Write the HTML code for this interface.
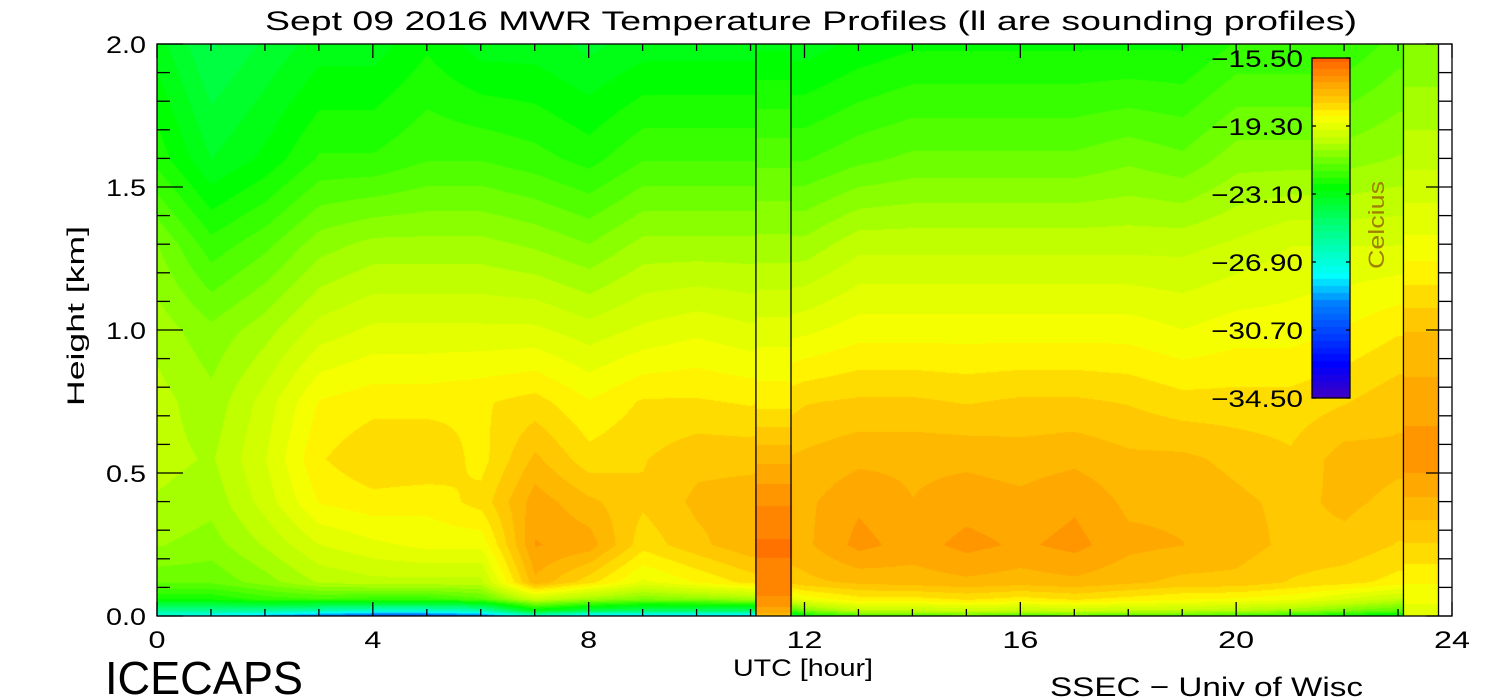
<!DOCTYPE html>
<html><head><meta charset="utf-8"><style>
body{margin:0;background:#fff;width:1500px;height:700px;overflow:hidden;position:relative;font-family:"Liberation Sans",sans-serif}
canvas,svg{position:absolute;left:0;top:0}
</style></head><body>
<canvas id="heat" width="1500" height="700"></canvas>
<svg id="ov" width="1500" height="700"></svg>
<script>
const heights=[0,0.02,0.06,0.12,0.25,0.4,0.55,0.75,1.0,1.3,1.6,2.0];
const times=[0,1,2,3,4,5,6,7,8,9,10,11,12,13,14,15,16,17,18,19,20,21,22,23];
const tH0=[-27,-28,-29,-30,-31,-31,-30,-27,-29,-29,-29,-29,-23,-22,-22,-21.5,-22,-21.5,-22,-22,-22,-22.5,-23,-23.5];
const tH002=[-25.5,-25.5,-25.5,-26,-26.5,-26.5,-26,-23,-24,-24.5,-24.5,-24.5,-21,-20,-20,-19.8,-20,-19.8,-20,-20,-20.2,-20.5,-21,-21.5];
const tH006=[-22.5,-22.5,-22,-21.8,-22,-22,-21.5,-19.8,-20.5,-21,-20.8,-20.5,-19,-18.5,-18.5,-18.3,-18.5,-18.3,-18.5,-18.7,-18.8,-19,-19.5,-20];
const tH012=[-21.3,-21.3,-20.8,-20.2,-20,-20,-20,-17.3,-18.2,-19.2,-18.7,-18.2,-17.7,-17.5,-17.4,-17.3,-17.4,-17.3,-17.5,-17.7,-17.7,-18,-18.2,-18.5];
const tH025=[-20.6,-20.8,-20.2,-19.5,-19.2,-19,-19,-16.8,-17,-18.2,-17.7,-17.3,-17.3,-16.7,-17,-16.7,-16.9,-16.7,-17.1,-17.2,-17.4,-17.7,-17.7,-18];
const tH040=[-20.3,-20.5,-19.7,-18.7,-18.5,-18.6,-18.2,-17,-17.5,-17.9,-17.5,-17.4,-17.3,-16.9,-17.2,-17,-17.1,-16.9,-17.3,-17.3,-17.5,-17.7,-17.5,-17.7];
const tH055=[-20.1,-20.3,-19.5,-18.4,-18,-18,-18.5,-17.5,-18.2,-18,-17.7,-17.7,-17.5,-17.3,-17.3,-17.3,-17.4,-17.3,-17.5,-17.5,-17.7,-17.9,-17.4,-17.5];
const tH075=[-20.1,-20.5,-19.7,-18.7,-18.5,-18.5,-18.4,-18.2,-18.7,-18.3,-18.3,-18.4,-18,-17.9,-17.9,-18,-17.9,-17.9,-18,-18.2,-18.2,-18.2,-18,-17.7];
const tH100=[-20.4,-20.9,-20.4,-19.7,-19.4,-19.4,-19.4,-19.4,-19.7,-19.4,-19.2,-19.4,-19.2,-18.9,-18.9,-18.9,-18.9,-18.9,-18.9,-19.1,-18.9,-18.9,-18.7,-18.4];
const tH130=[-21,-22,-21.5,-20.8,-20.5,-20.5,-20.5,-20.7,-21,-20.5,-20.5,-20.5,-20.5,-20,-20,-20,-20,-20,-20,-20,-19.8,-19.5,-19.5,-19.5];
const tH160=[-22.3,-23.3,-22.8,-22.1,-22.1,-21.8,-21.8,-22,-22.3,-21.8,-21.8,-21.8,-21.8,-21.5,-21.3,-21.3,-21.3,-21.3,-21.1,-21.3,-20.8,-20.8,-20.8,-20.6];
const tH200=[-23.1,-24.1,-23.6,-23.1,-23.1,-22.6,-23.1,-23.1,-23.4,-23.1,-23.1,-23.1,-23.1,-22.8,-22.6,-22.6,-22.6,-22.6,-22.6,-22.6,-22.1,-22.1,-22.1,-21.6];
const sounding1=[-17.5,-17,-16.5,-16.2,-16,-16.5,-17.3,-18.5,-19.3,-20.5,-21.5,-23];
const sounding2=[-19.5,-19.3,-19,-18.7,-18,-17.3,-16.6,-17,-17.6,-19,-20,-21];
const soundTimes=[[11.1,11.75],[23.1,23.75]];
const cbTicks=[-15.5,-19.3,-23.1,-26.9,-30.7,-34.5];
const xTicks=[0,4,8,12,16,20,24];
const yTicks=[0,0.5,1.0,1.5,2.0];
const grid=[tH0,tH002,tH006,tH012,tH025,tH040,tH055,tH075,tH100,tH130,tH160,tH200];

const X0=157,X1=1452,Y0=616,Y1=44,TMIN=-34.5,TMAX=-15.5;
const xs=h=>X0+(X1-X0)*h/24, ys=k=>Y0-(Y0-Y1)*k/2;
const stops=[[0,[64,0,192]],[0.1,[0,0,255]],[0.28,[0,128,255]],[0.36,[0,255,255]],[0.5,[0,255,128]],[0.62,[0,255,0]],[0.76,[192,255,0]],[0.83,[255,255,0]],[0.87,[255,208,0]],[0.92,[255,168,0]],[1,[255,96,0]]];
function col(T){let t=(T-TMIN)/(TMAX-TMIN);t=Math.max(0,Math.min(1,t));t=Math.round(t*50)/50;
 for(let i=1;i<stops.length;i++){if(t<=stops[i][0]){const a=stops[i-1],b=stops[i],f=(t-a[0])/(b[0]-a[0]);return a[1].map((v,j)=>Math.round(v+(b[1][j]-v)*f));}}return stops[stops.length-1][1];}
function interp(arr,v){if(v<=arr[0])return 0;for(let i=1;i<arr.length;i++)if(v<=arr[i])return i-1+(v-arr[i-1])/(arr[i]-arr[i-1]);return arr.length-1;}
function colInterp(vals,hk){const fi=interp(heights,hk);const i=Math.floor(fi),f=fi-i;return i>=vals.length-1?vals[vals.length-1]:vals[i]*(1-f)+vals[i+1]*f;}
const cv=document.getElementById('heat'),ctx=cv.getContext('2d');
const img=ctx.createImageData(1500,700);
const xEnd=xs(23.75);
for(let px=X0;px<xEnd;px++){const h=(px-X0)/(X1-X0)*24;
 let src=null;if(h>=soundTimes[0][0]&&h<soundTimes[0][1])src=sounding1;else if(h>=soundTimes[1][0])src=sounding2;
 let ti=Math.min(h,23),i=Math.min(Math.floor(ti),22),f=ti-i;
 const a=src?src:grid.map(r=>r[i]*(1-f)+r[i+1]*f);
 for(let py=Y1;py<Y0;py++){const hk=(Y0-py)/(Y0-Y1)*2;const T=colInterp(a,hk);
  const c=col(T),o=(py*1500+px)*4;img.data[o]=c[0];img.data[o+1]=c[1];img.data[o+2]=c[2];img.data[o+3]=255;}}
for(let py=58;py<398;py++){const T=TMAX-(py-58)/340*(TMAX-TMIN);const c=col(T);for(let px=1312;px<1350;px++){const o=(py*1500+px)*4;img.data[o]=c[0];img.data[o+1]=c[1];img.data[o+2]=c[2];img.data[o+3]=255;}}
ctx.putImageData(img,0,0);

const svg=document.getElementById('ov'),NS='http://www.w3.org/2000/svg';
function el(tag,at,parent){const e=document.createElementNS(NS,tag);for(const k in at)e.setAttribute(k,at[k]);(parent||svg).appendChild(e);return e;}
function line(x1,y1,x2,y2){return el('line',{x1,y1,x2,y2,stroke:'#000','stroke-width':1.3});}
function txt(x,y,s,size,anchor,extra){const t=el('text',Object.assign({x,y,'font-size':size,'text-anchor':anchor||'middle',fill:'#000','font-family':'Liberation Sans, sans-serif',lengthAdjust:'spacingAndGlyphs'},extra||{}));t.textContent=s;return t;}
const frame=el('rect',{x:X0,y:Y1,width:X1-X0,height:Y0-Y1,fill:'none',stroke:'#000','stroke-width':1.3});

[11.1,11.75,23.1,23.75].forEach(h=>{const l=line(xs(h),Y1,xs(h),Y0);});
for(let h=0;h<=24;h++){const L=h%4==0?14:7;line(xs(h),Y0,xs(h),Y0-L);line(xs(h),Y1,xs(h),Y1+L);}
for(let k=0;k<=20;k++){const v=k/10,L=k%5==0?26:13;line(X0,ys(v),X0+L,ys(v));line(X1,ys(v),X1-L,ys(v));}
xTicks.forEach(h=>{const w=h>=10?36:17;const t=txt(xs(h),648,String(h),24,'middle',{textLength:w});});
yTicks.forEach(v=>{const t=txt(146,ys(v)+9,v.toFixed(1),24,'end',{textLength:40});});
const cb=el('rect',{x:1312,y:58,width:38,height:340,fill:'none',stroke:'#000','stroke-width':1.3});

cbTicks.forEach(v=>{const y=58+(TMAX-v)/(TMAX-TMIN)*340;const t=txt(1303,y+9,'\u2212'+Math.abs(v).toFixed(2),24,'end',{textLength:92});line(1312,y,1316,y);line(1350,y,1346,y);});
let t;
t=txt(1384,225,'Celcius',22,'middle',{transform:'rotate(-90 1384 225)',fill:'#a08000',textLength:88});
t=txt(811,30,'Sept 09 2016 MWR Temperature Profiles (ll are sounding profiles)',27,'middle',{textLength:1092});
t=txt(803,676,'UTC [hour]',24,'middle',{textLength:140});
t=txt(84,316,'Height [km]',24,'middle',{transform:'rotate(-90 84 316)',textLength:180});
t=txt(105,694,'ICECAPS',46,'start',{textLength:198});
t=txt(1050,696,'SSEC \u2212 Univ of Wisc',27,'start',{textLength:313});
</script>
</body></html>
